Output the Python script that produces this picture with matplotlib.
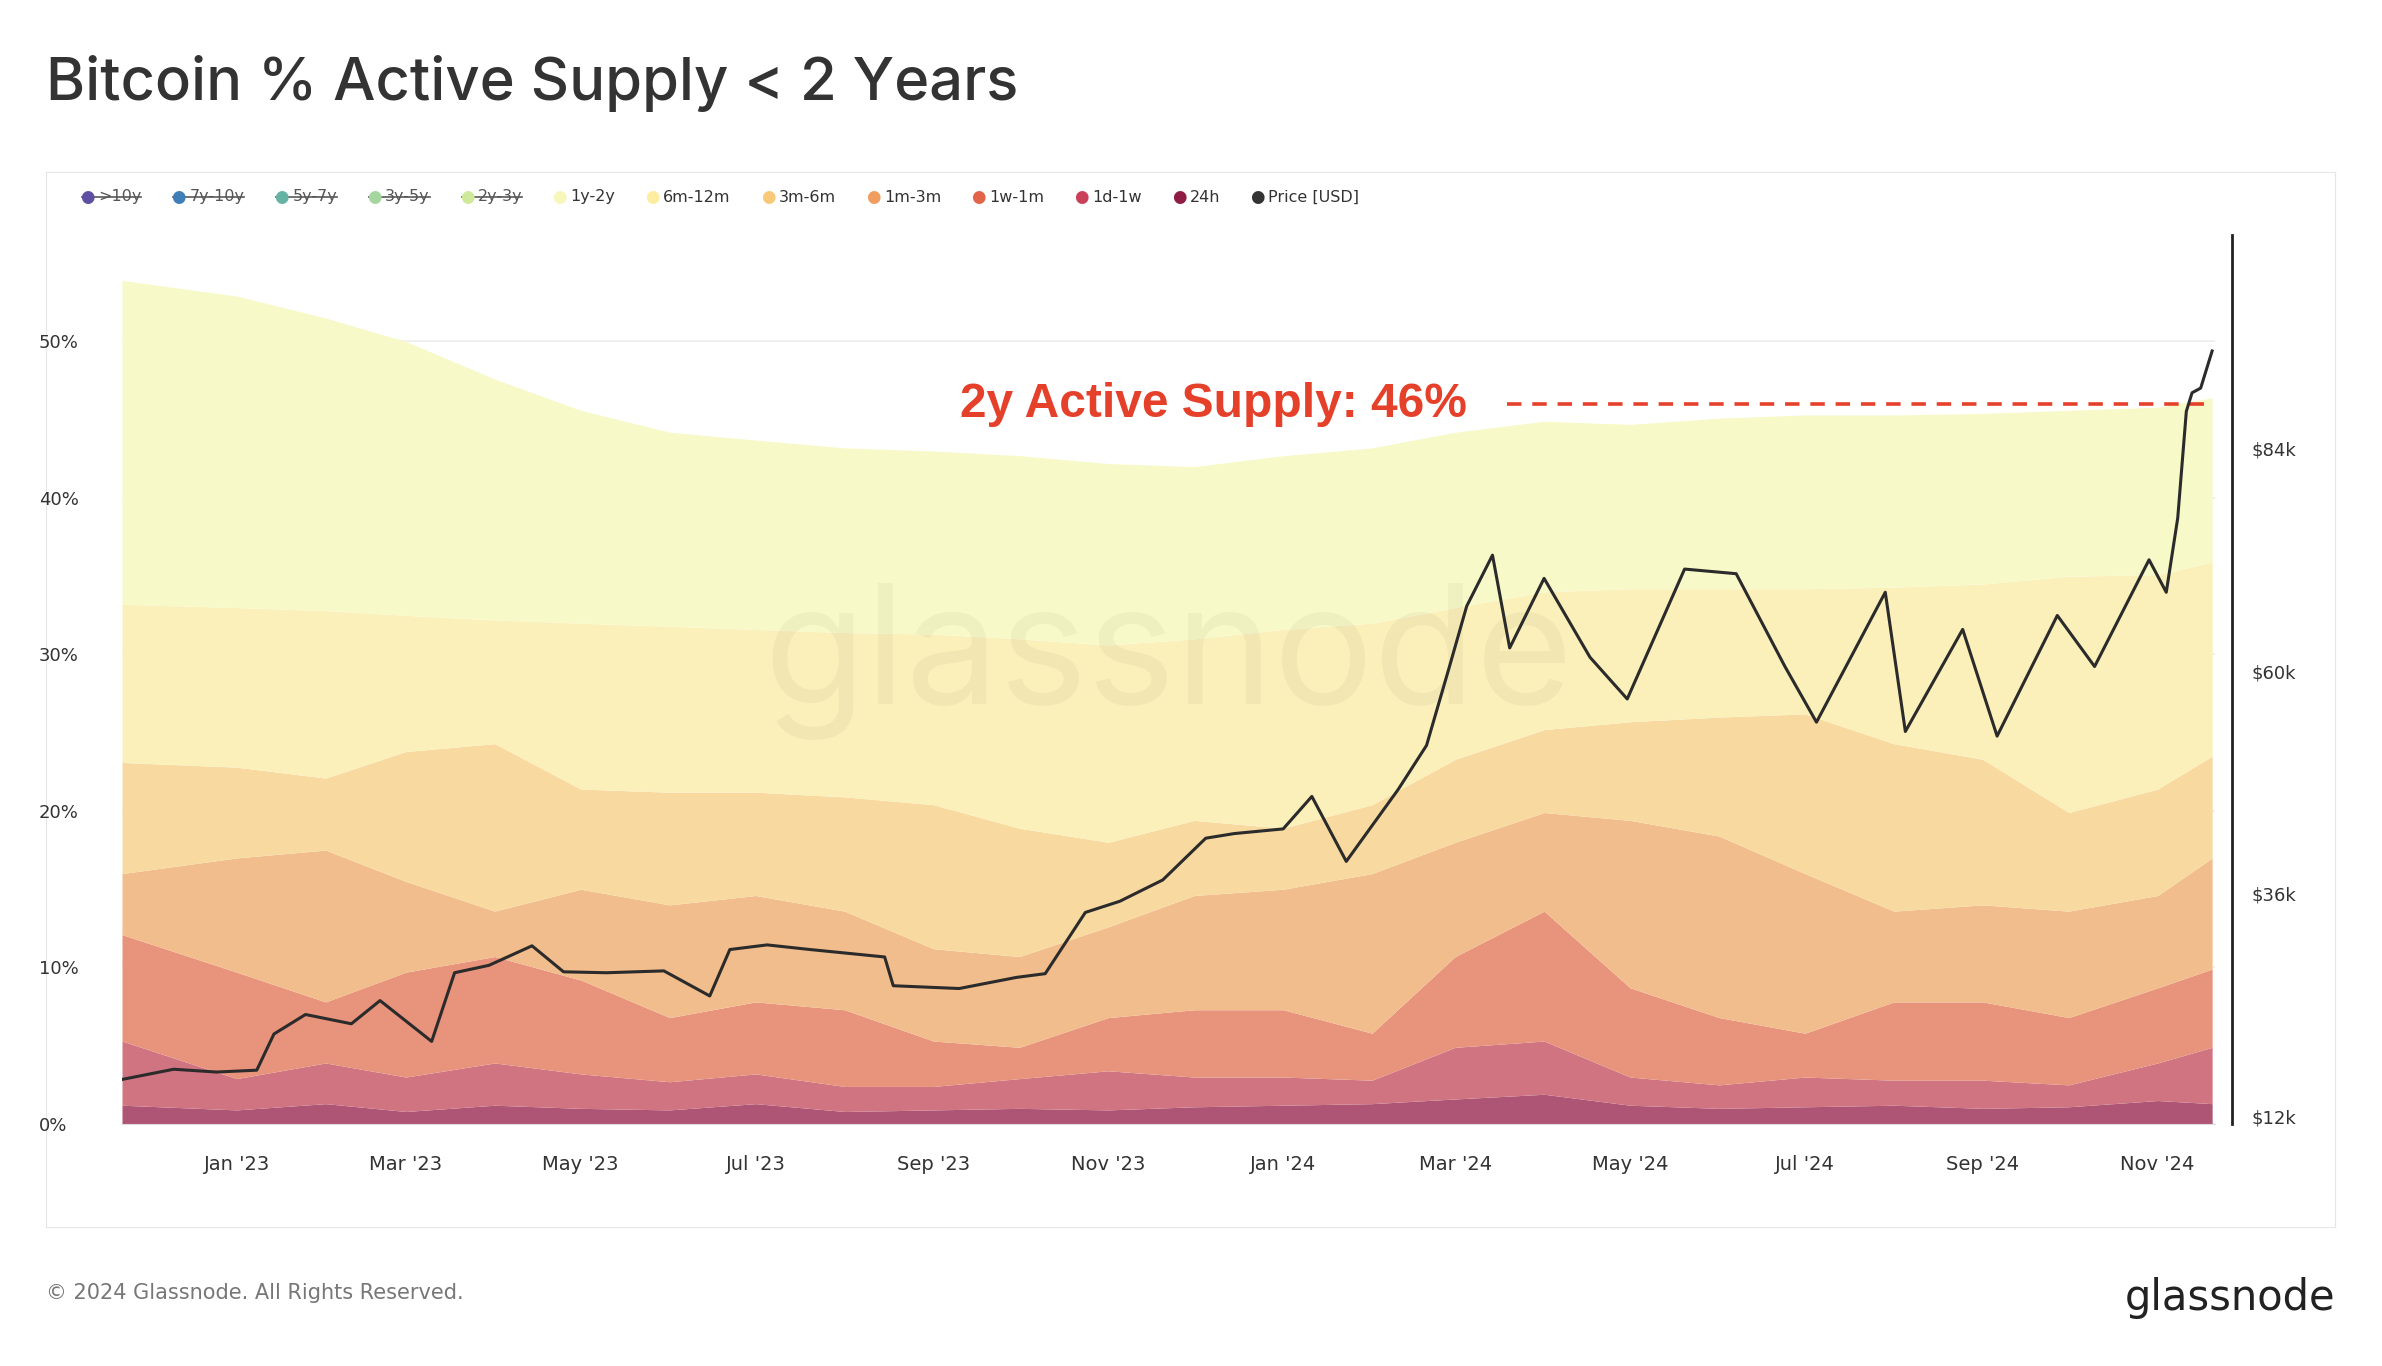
import matplotlib
matplotlib.use("Agg")
import matplotlib.pyplot as plt
import matplotlib.dates as mdates
import numpy as np
import pandas as pd

# ---- data (cumulative tops of stacked layers, %) ----
layer_dates = ["2022-11-22","2023-01-01","2023-02-01","2023-03-01","2023-04-01","2023-05-01","2023-06-01",
               "2023-07-01","2023-08-01","2023-09-01","2023-10-01","2023-11-01","2023-12-01","2024-01-01",
               "2024-02-01","2024-03-01","2024-04-01","2024-05-01","2024-06-01","2024-07-01","2024-08-01",
               "2024-09-01","2024-10-01","2024-11-01","2024-11-20"]
top_1y2y  = [53.9,52.9,51.5,50.0,47.6,45.6,44.2,43.7,43.2,43.0,42.7,42.2,42.0,42.7,43.2,44.2,44.9,44.7,45.1,45.3,45.3,45.4,45.6,45.8,46.4]
top_6m12m = [33.2,33.0,32.8,32.5,32.2,32.0,31.8,31.6,31.4,31.3,31.0,30.6,31.0,31.6,32.0,33.0,34.0,34.2,34.2,34.2,34.3,34.5,35.0,35.1,35.9]
top_3m6m  = [23.1,22.8,22.1,23.8,24.3,21.4,21.2,21.2,20.9,20.4,18.9,18.0,19.4,18.9,20.4,23.3,25.2,25.7,26.0,26.2,24.3,23.3,19.9,21.4,23.5]
top_1m3m  = [16.0,17.0,17.5,15.5,13.6,15.0,14.0,14.6,13.6,11.2,10.7,12.6,14.6,15.0,16.0,18.0,19.9,19.4,18.4,16.0,13.6,14.0,13.6,14.6,17.0]
top_1w1m  = [12.1,9.7,7.8,9.7,10.7,9.2,6.8,7.8,7.3,5.3,4.9,6.8,7.3,7.3,5.8,10.7,13.6,8.7,6.8,5.8,7.8,7.8,6.8,8.7,9.9]
top_1d1w  = [5.3,2.9,3.9,3.0,3.9,3.2,2.7,3.2,2.4,2.4,2.9,3.4,3.0,3.0,2.8,4.9,5.3,3.0,2.5,3.0,2.8,2.8,2.5,3.9,4.9]
top_24h   = [1.2,0.9,1.3,0.8,1.2,1.0,0.9,1.3,0.8,0.9,1.0,0.9,1.1,1.2,1.3,1.6,1.9,1.2,1.0,1.1,1.2,1.0,1.1,1.5,1.3]

price_dates = ["2022-11-22","2022-12-10","2022-12-25","2023-01-08","2023-01-14","2023-01-25","2023-02-10","2023-02-20",
               "2023-03-10","2023-03-18","2023-03-30","2023-04-14","2023-04-25","2023-05-10","2023-05-30","2023-06-15",
               "2023-06-22","2023-07-05","2023-07-20","2023-08-15","2023-08-18","2023-09-10","2023-09-30","2023-10-10",
               "2023-10-24","2023-11-05","2023-11-20","2023-12-05","2023-12-15","2024-01-01","2024-01-11","2024-01-23",
               "2024-02-10","2024-02-20","2024-02-28","2024-03-05","2024-03-14","2024-03-20","2024-04-01","2024-04-17",
               "2024-04-30","2024-05-20","2024-06-07","2024-06-24","2024-07-05","2024-07-29","2024-08-05","2024-08-25",
               "2024-09-06","2024-09-27","2024-10-10","2024-10-29","2024-11-04","2024-11-08","2024-11-11","2024-11-13",
               "2024-11-16","2024-11-20"]
price_usd = [16.0,17.1,16.8,17.0,20.9,23.0,22.0,24.5,20.1,27.5,28.3,30.4,27.6,27.5,27.7,25.0,30.0,30.5,30.0,29.2,26.1,25.8,27.0,27.4,
             34.0,35.2,37.5,42.0,42.5,43.0,46.5,39.5,47.2,52.0,60.5,67.0,72.5,62.5,70.0,61.5,57.0,71.0,70.5,60.5,54.5,68.5,53.5,64.5,
             53.0,66.0,60.5,72.0,68.5,76.5,88.0,90.0,90.5,94.5]

layer_names = ["24h","1d-1w","1w-1m","1m-3m","3m-6m","6m-12m","1y-2y"]
layer_fill = ["#ae5474","#d07482","#e8937b","#f2bd8c","#f8daa0","#fbf0b9","#f8f9c8"]
legend_names = [">10y","7y-10y","5y-7y","3y-5y","2y-3y","1y-2y","6m-12m","3m-6m","1m-3m","1w-1m","1d-1w","24h","Price [USD]"]
legend_cols = ["#5e4fa2","#3f7fb8","#66b3a5","#a5d6a0","#cfe99a","#f6f7b8","#fdeda0","#f9c97a","#f09e60","#e2654a","#c94058","#8e1c44","#333333"]

W, H = 2382, 1366
fig = plt.figure(figsize=(W/100, H/100), dpi=100)
fig.patch.set_facecolor("white")

fr = fig.add_axes([46/W, 1-1227/H, (2335-46)/W, (1227-172)/H])
fr.set_xticks([]); fr.set_yticks([])
for s in fr.spines.values():
    s.set_color("#e6e6e6")
fr.set_zorder(0)

ax = fig.add_axes([122/W, 1-1124/H, (2215-122)/W, (1124-235)/H])
ax.set_zorder(1)
ax.patch.set_alpha(0)
ld = pd.to_datetime(layer_dates)
tops = [top_24h, top_1d1w, top_1w1m, top_1m3m, top_3m6m, top_6m12m, top_1y2y]
prev = np.zeros(len(ld))
for t, c in zip(tops, layer_fill):
    ax.fill_between(ld, prev, t, color=c, lw=0, zorder=2)
    prev = np.array(t)
ax.set_ylim(0, 56.8)
ax.set_xlim(pd.Timestamp("2022-11-22"), pd.Timestamp("2024-11-21"))
ax.set_yticks([0,10,20,30,40,50])
ax.set_yticklabels(["0%","10%","20%","30%","40%","50%"])
ax.yaxis.grid(True, color="#eeeeee", lw=1.2, zorder=0)
ax.set_axisbelow(True)
for s in ax.spines.values():
    s.set_visible(False)
ax.spines["bottom"].set_visible(True); ax.spines["bottom"].set_color("#dddddd")
ax.tick_params(axis="y", length=0, labelsize=13, colors="#333333")
ax.tick_params(axis="x", length=0, labelsize=14, colors="#333333", pad=22)
ax.xaxis.set_major_locator(mdates.MonthLocator(bymonth=[1,3,5,7,9,11]))
ax.xaxis.set_major_formatter(mdates.DateFormatter("%b '%y"))
for lab in ax.get_yticklabels():
    lab.set_horizontalalignment("left")
ax.yaxis.set_tick_params(pad=60)

ax.text(0.5, 0.52, "glassnode", transform=ax.transAxes, fontsize=120, color="#000000", alpha=0.035,
        ha="center", va="center", fontfamily="Inter")

ax2 = ax.twinx()
ax2.plot(pd.to_datetime(price_dates), price_usd, color="#2b2b2b", lw=2.2, zorder=5)
ax2.set_ylim(11.2, 107)
ax2.set_yticks([12,36,60,84])
ax2.set_yticklabels(["$12k","$36k","$60k","$84k"])
for s in ax2.spines.values():
    s.set_visible(False)
ax2.spines["right"].set_visible(True)
ax2.spines["right"].set_position(("outward", 12))
ax2.spines["right"].set_color("#222222"); ax2.spines["right"].set_linewidth(2)
ax2.tick_params(axis="y", length=0, labelsize=13, colors="#333333", pad=14)

ax.plot([pd.Timestamp("2024-03-19"), pd.Timestamp("2024-11-18")], [46, 46], ls=(0,(4,3)), color="#e5402a", lw=2.6, zorder=6)
ax.text(pd.Timestamp("2024-03-05"), 46, "2y Active Supply: 46%", color="#e5402a", fontsize=34.5,
        fontweight="bold", ha="right", va="center", zorder=6, fontfamily="Liberation Sans")

x = 80
for i, (n, c) in enumerate(zip(legend_names, legend_cols)):
    y = 1-197/H
    fig.text(x/W, y, "●", color=c, fontsize=12, va="center", ha="left")
    struck = i < 5
    t = fig.text((x+18)/W, y, n, color="#555555" if struck else "#333333", fontsize=11.5, va="center", ha="left")
    fig.canvas.draw()
    bb = t.get_window_extent()
    if struck:
        fig.add_artist(plt.Line2D([(x+2)/W, bb.x1/W], [y, y], color="#666666", lw=1.3))
    x = bb.x1 + 30

fig.text(46/W, 1-84/H, "Bitcoin % Active Supply < 2 Years", fontsize=43, color="#333333", va="center", ha="left",
         fontfamily="Inter", fontweight="medium")
fig.text(46/W, 1-1293/H, "© 2024 Glassnode. All Rights Reserved.", fontsize=15, color="#777777", va="center", ha="left")
fig.text(2335/W, 1-1298/H, "glassnode", fontsize=30, color="#222222", va="center", ha="right", fontweight="medium")

fig.savefig("out.png", dpi=100)
